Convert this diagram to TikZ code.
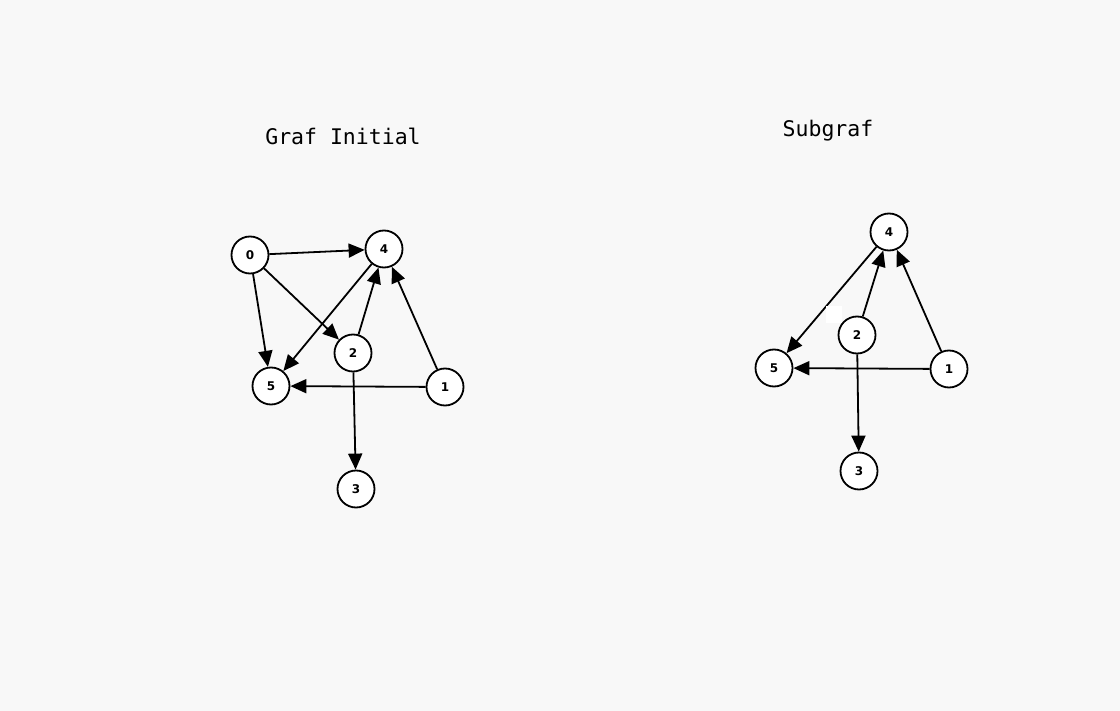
\documentclass[tikz,border=0pt]{standalone}
\usepackage{fontspec}
\setmonofont{DejaVu Sans Mono}
\newfontfamily\nodefont{DejaVu Sans}
\usetikzlibrary{arrows.meta}
\definecolor{bgc}{HTML}{F8F8F8}
\tikzset{
  vtx/.style={circle,draw=black,line width=1.8pt,fill=white,minimum size=37pt,inner sep=0pt,font=\nodefont\bfseries\fontsize{12}{14}\selectfont},
  edge/.style={line width=1.8pt,-{Triangle[length=16pt,width=14pt]}},
  ttl/.style={font=\ttfamily\fontsize{21.5}{24}\selectfont}
}
\begin{document}
\begin{tikzpicture}[x=1pt,y=-1pt]
\fill[bgc] (0,0) rectangle (1120,711);
\useasboundingbox (0,0) rectangle (1120,711);
\node[ttl] (t1) at (343,136) {Graf Initial};
\node[ttl] (t2) at (828,131) {Subgraf};
% left graph
\node[vtx] (a0) at (250,255) {0};
\node[vtx] (a4) at (384,249) {4};
\node[vtx] (a2) at (353,353) {2};
\node[vtx] (a5) at (271,386) {5};
\node[vtx] (a1) at (445,387) {1};
\node[vtx] (a3) at (356,489) {3};
\draw[edge] (a0) -- (a4);
\draw[edge] (a0) -- (a5);
\draw[edge] (a0) -- (a2);
\draw[edge] (a4) -- (a5);
\draw[edge] (a2) -- (a4);
\draw[edge] (a1) -- (a4);
\draw[edge] (a1) -- (a5);
\draw[edge] (a2) -- (a3);
% right graph
\node[vtx] (b4) at (889,232) {4};
\node[vtx] (b2) at (857,335) {2};
\node[vtx] (b5) at (774,368) {5};
\node[vtx] (b1) at (949,369) {1};
\node[vtx] (b3) at (859,471) {3};
\draw[edge] (b4) -- (b5);
\draw[edge] (b2) -- (b4);
\draw[edge] (b1) -- (b4);
\draw[edge] (b1) -- (b5);
\draw[edge] (b2) -- (b3);
\fill[white] (826,306) rectangle (842,323);
\end{tikzpicture}
\end{document}
